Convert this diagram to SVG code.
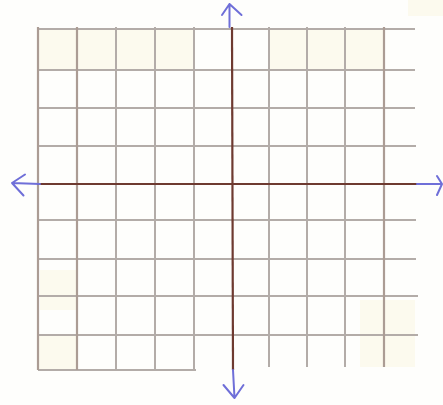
<svg xmlns="http://www.w3.org/2000/svg" width="443" height="405" viewBox="0 0 443 405">
<style>
.g{stroke:#b3aca8;stroke-width:2;fill:none}
.gb{stroke:#ab9c94;stroke-width:2.2;fill:none}
.ax{stroke:#6e3a30;stroke-width:2.2;fill:none}
.ar{stroke:#6f6fd8;stroke-width:2;fill:none;stroke-linecap:round;stroke-linejoin:round}
.p{fill:#fcfaee}
</style>
<rect width="443" height="405" fill="#fefefc"/>
<rect class="p" x="38" y="29" width="155" height="41"/>
<rect class="p" x="269" y="29" width="115" height="41"/>
<rect class="p" x="38" y="335" width="39" height="35"/>
<rect class="p" x="40" y="270" width="37" height="40"/>
<rect class="p" x="360" y="300" width="55" height="67"/>
<rect class="p" x="408" y="0" width="35" height="16"/>
<g id="grid-h">
<line class="g" x1="37" y1="29" x2="415" y2="29"/>
<line class="g" x1="37" y1="70" x2="415" y2="70"/>
<line class="g" x1="37" y1="108" x2="415" y2="108"/>
<line class="g" x1="37" y1="146" x2="416" y2="146"/>
<line class="g" x1="37" y1="220" x2="416" y2="220"/>
<line class="g" x1="37" y1="259" x2="416" y2="259"/>
<line class="g" x1="37" y1="296" x2="418" y2="296"/>
<line class="g" x1="37" y1="335" x2="418" y2="335"/>
<line class="g" x1="38" y1="370" x2="196" y2="370"/>
</g>
<g id="grid-v">
<line class="gb" x1="38" y1="27" x2="38" y2="370"/>
<line class="gb" x1="77" y1="27" x2="77" y2="370"/>
<line class="g" x1="116" y1="27" x2="116" y2="370"/>
<line class="g" x1="155" y1="27" x2="155" y2="370"/>
<line class="g" x1="194" y1="27" x2="194" y2="370"/>
<line class="g" x1="269" y1="27" x2="269" y2="367"/>
<line class="g" x1="307" y1="27" x2="307" y2="367"/>
<line class="g" x1="345" y1="27" x2="345" y2="367"/>
<line class="gb" x1="384" y1="27" x2="384" y2="367"/>
</g>
<g id="axes">
<line class="ax" x1="37" y1="184" x2="417" y2="184"/>
<line class="ax" x1="232" y1="27" x2="233" y2="370"/>
</g>
<g id="arrows">
<path class="ar" d="M229.5 27 L229.5 4 M222 15 L229.5 4 L241.5 15"/>
<path class="ar" d="M40 184 L12 183 M25 174.5 L12 183 L23.5 195.5"/>
<path class="ar" d="M417 184 L442 184 M437 176 L442 184 L437 195"/>
<path class="ar" d="M233 370 L234.5 398 M223.5 385 L234.5 398 L243.5 385"/>
</g>
</svg>
